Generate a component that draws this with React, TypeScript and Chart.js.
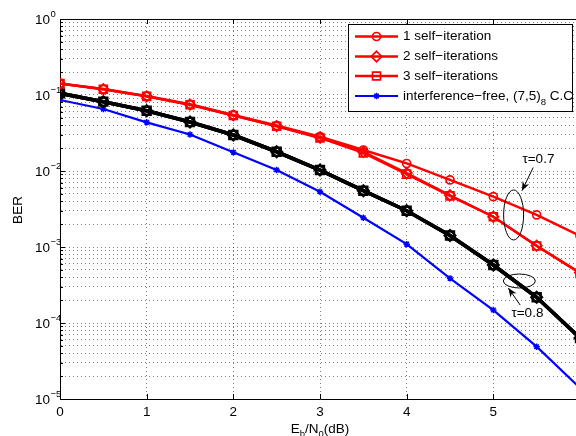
import React, { useEffect, useRef } from 'react';
import { Chart, registerables } from 'chart.js';

Chart.register(...registerables);

// ---------- data ----------
const snrDb = [0, 0.5, 1, 1.5, 2, 2.5, 3, 3.5, 4, 4.5, 5, 5.5, 6];

// tau = 0.7 (red)
const berTau07Iter1 = [0.142, 0.12, 0.097, 0.0755, 0.0546, 0.0397, 0.0284, 0.0189, 0.01256, 0.00762, 0.00459, 0.00264, 0.0014];
const berTau07Iter2 = [0.141, 0.119, 0.096, 0.0745, 0.054, 0.039, 0.0276, 0.0178, 0.0094, 0.0048, 0.0025, 0.00104, 0.00046];
const berTau07Iter3 = [0.141, 0.119, 0.096, 0.0745, 0.0538, 0.0388, 0.0272, 0.0173, 0.0091, 0.0047, 0.0025, 0.00103, 0.00045];

// tau = 0.8 (black, the three self-iteration curves coincide)
const berTau08Iter1 = [0.105, 0.0817, 0.0621, 0.0441, 0.0298, 0.0179, 0.0103, 0.0055, 0.003, 0.00142, 0.00058, 0.000218, 0.0000635];
const berTau08Iter2 = [0.105, 0.0817, 0.0621, 0.0441, 0.0298, 0.0179, 0.0103, 0.0055, 0.003, 0.00142, 0.00058, 0.000218, 0.0000635];
const berTau08Iter3 = [0.105, 0.0817, 0.0621, 0.0441, 0.0298, 0.0179, 0.0103, 0.0055, 0.003, 0.00142, 0.00058, 0.000218, 0.0000635];

// interference-free reference (blue)
const berInterferenceFree = [0.086, 0.0654, 0.0437, 0.0302, 0.0176, 0.0103, 0.00534, 0.00243, 0.00109, 0.000387, 0.000148, 0.0000488, 0.000014];

// axis ticks
const xTickValues = [0, 1, 2, 3, 4, 5, 6];
const xTickLabels = ['0', '1', '2', '3', '4', '5', '6'];
const yDecadeExponents = [-5, -4, -3, -2, -1, 0];
const yDecadeLabels = ['−5', '−4', '−3', '−2', '−1', '0'];
const yMinorMultipliers = [1, 2, 3, 4, 5, 6, 7, 8, 9];

// texts
const legendLabels = ['1 self−iteration', '2 self−iterations', '3 self−iterations', 'interference−free, (7,5)'];
const legendLastSub = '8';
const legendLastTail = ' C.C';
const xTitleParts = ['E', 'b', '/N', '0', '(dB)'];
const yTitle = 'BER';

// annotations (data coordinates)
const tau07Text = 'τ=0.7';
const tau07TextPos = [5.52, 0.0142];
const tau07ArrowFrom = [5.46, 0.0111];
const tau07ArrowTo = [5.33, 0.0055];
const tau07EllipseAt = [5.234, 0.00264];
const tau08Text = 'τ=0.8';
const tau08TextPos = [5.393, 0.000135];
const tau08ArrowFrom = [5.31, 0.000172];
const tau08ArrowTo = [5.173, 0.000289];
const tau08EllipseAt = [5.30, 0.000357];

// ---------- styles ----------
const FONT = '"Liberation Sans", Arial, Helvetica, sans-serif';
const RED = '#ff0000';
const BLUE = '#0000ff';
const BLACK = '#000000';

const yTickValues: number[] = [];
yDecadeExponents.forEach((e, i) => {
  if (i === yDecadeExponents.length - 1) {
    yTickValues.push(Math.pow(10, e));
  } else {
    yMinorMultipliers.forEach((m) => yTickValues.push(m * Math.pow(10, e)));
  }
});

type Series = { label: string; values: number[]; color: string; style: string; radius: number; lw: number; pbw: number };

const series: Series[] = [
  { label: legendLabels[0], values: berTau07Iter1, color: RED, style: 'circle', radius: 4, lw: 2.4, pbw: 1.7 },
  { label: legendLabels[1], values: berTau07Iter2, color: RED, style: 'rectRot', radius: 5.2, lw: 2.4, pbw: 1.7 },
  { label: legendLabels[2], values: berTau07Iter3, color: RED, style: 'rect', radius: 5.6, lw: 2.4, pbw: 1.7 },
  { label: 'tau08-1', values: berTau08Iter1, color: BLACK, style: 'circle', radius: 4.2, lw: 3.6, pbw: 2.2 },
  { label: 'tau08-2', values: berTau08Iter2, color: BLACK, style: 'rectRot', radius: 5.4, lw: 3.6, pbw: 2.2 },
  { label: 'tau08-3', values: berTau08Iter3, color: BLACK, style: 'rect', radius: 5.8, lw: 3.6, pbw: 2.2 },
  { label: legendLabels[3], values: berInterferenceFree, color: BLUE, style: 'star', radius: 3.2, lw: 2.2, pbw: 1.5 },
];

function drawMarker(ctx: CanvasRenderingContext2D, style: string, x: number, y: number, r: number) {
  ctx.beginPath();
  if (style === 'circle') {
    ctx.arc(x, y, r, 0, Math.PI * 2);
  } else if (style === 'rect') {
    const s = r * Math.SQRT1_2;
    ctx.rect(x - s, y - s, 2 * s, 2 * s);
  } else if (style === 'rectRot') {
    ctx.moveTo(x, y - r);
    ctx.lineTo(x + r, y);
    ctx.lineTo(x, y + r);
    ctx.lineTo(x - r, y);
    ctx.closePath();
  } else {
    for (let k = 0; k < 4; k++) {
      const a = (k * Math.PI) / 4;
      ctx.moveTo(x + Math.cos(a) * r, y + Math.sin(a) * r);
      ctx.lineTo(x - Math.cos(a) * r, y - Math.sin(a) * r);
    }
  }
  ctx.stroke();
}

function drawArrow(ctx: CanvasRenderingContext2D, x1: number, y1: number, x2: number, y2: number) {
  ctx.beginPath();
  ctx.moveTo(x1, y1);
  ctx.lineTo(x2, y2);
  ctx.stroke();
  const a = Math.atan2(y2 - y1, x2 - x1);
  const len = 9;
  const hw = 3.6;
  const bx = x2 - Math.cos(a) * len;
  const by = y2 - Math.sin(a) * len;
  ctx.beginPath();
  ctx.moveTo(x2, y2);
  ctx.lineTo(bx + Math.sin(a) * hw, by - Math.cos(a) * hw);
  ctx.lineTo(x2 - Math.cos(a) * len * 0.7, y2 - Math.sin(a) * len * 0.7);
  ctx.lineTo(bx - Math.sin(a) * hw, by + Math.cos(a) * hw);
  ctx.closePath();
  ctx.fill();
}

const decorPlugin = {
  id: 'decor',
  afterDraw(chart: any) {
    const { ctx, chartArea: ca, scales } = chart;
    const xs = scales.x;
    const ys = scales.y;
    const px = (v: number) => xs.getPixelForValue(v);
    const py = (v: number) => ys.getPixelForValue(v);
    ctx.save();
    ctx.strokeStyle = BLACK;
    ctx.fillStyle = BLACK;
    ctx.lineWidth = 1;

    // top & right border of the box
    ctx.beginPath();
    ctx.moveTo(ca.left, Math.round(ca.top) + 0.5);
    ctx.lineTo(ca.right, Math.round(ca.top) + 0.5);
    ctx.moveTo(Math.round(ca.right) - 0.5, ca.top);
    ctx.lineTo(Math.round(ca.right) - 0.5, ca.bottom);
    ctx.stroke();

    // inward tick marks
    ctx.beginPath();
    xTickValues.forEach((v) => {
      const x = Math.round(px(v)) + 0.5;
      ctx.moveTo(x, ca.bottom);
      ctx.lineTo(x, ca.bottom - 5);
      ctx.moveTo(x, ca.top);
      ctx.lineTo(x, ca.top + 5);
    });
    yTickValues.forEach((v) => {
      const y = Math.round(py(v)) + 0.5;
      const major = Math.abs(Math.log10(v) - Math.round(Math.log10(v))) < 1e-9;
      ctx.moveTo(ca.left, y);
      ctx.lineTo(ca.left + (major ? 5 : 3), y);
    });
    ctx.stroke();

    // x tick labels
    ctx.font = `13.5px ${FONT}`;
    ctx.textAlign = 'center';
    ctx.textBaseline = 'middle';
    xTickValues.forEach((v, i) => {
      ctx.fillText(xTickLabels[i], px(v), ca.bottom + 13);
    });

    // y tick labels 10^k
    yDecadeExponents.forEach((e, i) => {
      const y = py(Math.pow(10, e));
      ctx.font = `13.5px ${FONT}`;
      ctx.textAlign = 'right';
      ctx.textBaseline = 'middle';
      ctx.fillText('10', 50, y + 1);
      ctx.font = `9.5px ${FONT}`;
      ctx.textAlign = 'left';
      ctx.fillText(yDecadeLabels[i], 50.5, y - 5);
    });

    // y title
    ctx.save();
    ctx.translate(18, 210);
    ctx.rotate(-Math.PI / 2);
    ctx.font = `13.5px ${FONT}`;
    ctx.textAlign = 'center';
    ctx.textBaseline = 'middle';
    ctx.fillText(yTitle, 0, 0);
    ctx.restore();

    // x title with subscripts
    const big = `13.5px ${FONT}`;
    const small = `9.5px ${FONT}`;
    const parts = xTitleParts.map((t, i) => ({ t, sub: i === 1 || i === 3 }));
    let total = 0;
    parts.forEach((p) => {
      ctx.font = p.sub ? small : big;
      total += ctx.measureText(p.t).width;
    });
    let cx = 320 - total / 2;
    ctx.textAlign = 'left';
    ctx.textBaseline = 'alphabetic';
    parts.forEach((p) => {
      ctx.font = p.sub ? small : big;
      ctx.fillText(p.t, cx, p.sub ? 437 : 433);
      cx += ctx.measureText(p.t).width;
    });

    // annotations
    ctx.font = big;
    ctx.textAlign = 'center';
    ctx.textBaseline = 'middle';
    ctx.fillText(tau07Text, px(tau07TextPos[0]), py(tau07TextPos[1]));
    ctx.fillText(tau08Text, px(tau08TextPos[0]), py(tau08TextPos[1]));
    drawArrow(ctx, px(tau07ArrowFrom[0]), py(tau07ArrowFrom[1]), px(tau07ArrowTo[0]), py(tau07ArrowTo[1]));
    drawArrow(ctx, px(tau08ArrowFrom[0]), py(tau08ArrowFrom[1]), px(tau08ArrowTo[0]), py(tau08ArrowTo[1]));
    ctx.beginPath();
    ctx.ellipse(px(tau07EllipseAt[0]), py(tau07EllipseAt[1]), 10, 25, 0, 0, Math.PI * 2);
    ctx.stroke();
    ctx.beginPath();
    ctx.ellipse(px(tau08EllipseAt[0]), py(tau08EllipseAt[1]), 16, 7, 0, 0, Math.PI * 2);
    ctx.stroke();

    // legend
    const lx = 348.5, ly = 24.5, lw = 224, lh = 87;
    ctx.fillStyle = '#ffffff';
    ctx.fillRect(lx, ly, lw, lh);
    ctx.strokeStyle = BLACK;
    ctx.lineWidth = 1;
    ctx.strokeRect(lx, ly, lw, lh);
    const legendSeries = [series[0], series[1], series[2], series[6]];
    const rows = [36.5, 56.5, 76, 96];
    legendSeries.forEach((s, i) => {
      const y = rows[i];
      ctx.strokeStyle = s.color;
      ctx.lineWidth = s.lw;
      ctx.beginPath();
      ctx.moveTo(355, y);
      ctx.lineTo(398, y);
      ctx.stroke();
      ctx.lineWidth = s.pbw;
      drawMarker(ctx, s.style, 376.5, y, s.radius);
      ctx.fillStyle = BLACK;
      ctx.font = big;
      ctx.textAlign = 'left';
      ctx.textBaseline = 'middle';
      ctx.fillText(s.label, 403, y);
      if (i === 3) {
        let w = ctx.measureText(s.label).width;
        ctx.font = small;
        ctx.fillText(legendLastSub, 403 + w, y + 6);
        w += ctx.measureText(legendLastSub).width;
        ctx.font = big;
        ctx.fillText(legendLastTail, 403 + w, y);
      }
    });
    ctx.restore();
  },
};

export default function App() {
  const ref = useRef<HTMLCanvasElement>(null);

  useEffect(() => {
    const canvas = ref.current;
    if (!canvas) return;
    const datasets = series.map((s) => ({
      label: s.label,
      data: snrDb.map((x, i) => ({ x, y: s.values[i] })),
      borderColor: s.color,
      borderWidth: s.lw,
      pointStyle: s.style,
      pointRadius: s.radius,
      pointBorderWidth: s.pbw,
      pointBorderColor: s.color,
      pointBackgroundColor: 'rgba(0,0,0,0)',
      fill: false,
      tension: 0,
    }));
    const grid = {
      color: 'rgba(0,0,0,0.5)',
      lineWidth: 1,
      drawTicks: false,
    };
    const chart = new Chart(canvas, {
      type: 'line',
      data: { datasets } as any,
      options: {
        animation: false,
        responsive: false,
        devicePixelRatio: 1,
        layout: { padding: { top: 19, right: 20, left: 0, bottom: 0 } },
        plugins: { legend: { display: false }, tooltip: { enabled: false } },
        scales: {
          x: {
            type: 'linear',
            min: 0,
            max: 6,
            ticks: { display: false, stepSize: 1 },
            grid,
            border: { display: true, color: BLACK, width: 1, dash: [1, 3] },
            afterFit: (s: any) => {
              s.height = 37;
            },
          },
          y: {
            type: 'logarithmic',
            min: 1e-5,
            max: 1,
            ticks: { display: false },
            grid,
            border: { display: true, color: BLACK, width: 1, dash: [1, 3] },
            afterBuildTicks: (s: any) => {
              s.ticks = yTickValues.map((v) => ({ value: v }));
            },
            afterFit: (s: any) => {
              s.width = 60;
            },
          },
        },
      } as any,
      plugins: [decorPlugin],
    });
    return () => chart.destroy();
  }, []);

  return (
    <div style={{ position: 'fixed', left: 0, top: 0, width: 576, height: 436, overflow: 'hidden', background: '#ffffff' }}>
      <canvas ref={ref} width={600} height={436} style={{ display: 'block', width: 600, height: 436 }} />
    </div>
  );
}
